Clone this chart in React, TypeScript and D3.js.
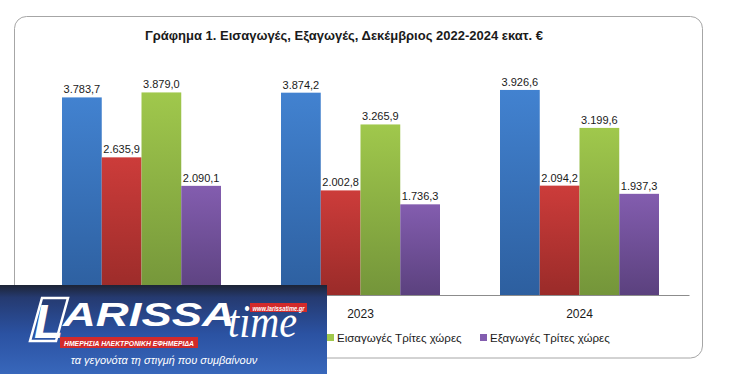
import React, { useEffect, useRef } from 'react';
import * as d3 from 'd3';

const categories = ['2022', '2023', '2024'];
const seriesNames = [
    'Εισαγωγές Χώρες ΕΕ',
    'Εξαγωγές Χώρες ΕΕ',
    'Εισαγωγές Τρίτες χώρες',
    'Εξαγωγές Τρίτες χώρες',
];
const importsEU = [3783.7, 3874.2, 3926.6];
const exportsEU = [2635.9, 2002.8, 2094.2];
const importsThird = [3879.0, 3265.9, 3199.6];
const exportsThird = [2090.1, 1736.3, 1937.3];

// top / bottom colour of each series gradient
const seriesColours = [
    ['#4282d0', '#2d5f9f'],
    ['#cc3c3a', '#9a2b29'],
    ['#a0c84c', '#74953a'],
    ['#835daf', '#5b417e'],
];

export default function App() {
    const svgRef = useRef<SVGSVGElement | null>(null);

    useEffect(() => {
        if (!svgRef.current) return;
        const root = d3.select(svgRef.current);
        root.selectAll('*').remove();

        const W = 731;
        const H = 374;
        const font = '"Liberation Sans", Arial, sans-serif';
        const values = [importsEU, exportsEU, importsThird, exportsThird];

        const locale = d3.formatLocale({ decimal: ',', thousands: '.', grouping: [3], currency: ['', '€'] });
        const fmt = locale.format(',.1f');

        const defs = root.append('defs');
        seriesColours.forEach((c, i) => {
            const g = defs.append('linearGradient')
                .attr('id', `bar-grad-${i}`)
                .attr('x1', 0).attr('y1', 0).attr('x2', 0).attr('y2', 1);
            g.append('stop').attr('offset', '0%').attr('stop-color', c[0]);
            g.append('stop').attr('offset', '100%').attr('stop-color', c[1]);
        });

        root.append('rect').attr('width', W).attr('height', H).attr('fill', '#fff');

        // outer chart frame
        root.append('rect')
            .attr('x', 14.5).attr('y', 16.5)
            .attr('width', 688).attr('height', 341.5)
            .attr('rx', 12)
            .attr('fill', '#fff')
            .attr('stroke', '#a6a6a6')
            .attr('stroke-width', 1);

        root.append('text')
            .attr('x', 344)
            .attr('y', 40)
            .attr('text-anchor', 'middle')
            .style('font-family', font)
            .style('font-size', '13px')
            .style('font-weight', 'bold')
            .style('fill', '#1a1a1a')
            .text('Γράφημα 1. Εισαγωγές, Εξαγωγές, Δεκέμβριος 2022-2024 εκατ. €');

        // Scales
        const x0 = d3.scaleBand()
            .domain(categories)
            .range([32, 689])
            .paddingInner(0.274)
            .paddingOuter(0.137);

        const x1 = d3.scaleBand()
            .domain(d3.range(seriesNames.length).map(String))
            .range([0, x0.bandwidth()]);

        const y = d3.scaleLinear()
            .domain([0, 4500])
            .range([295, 60]);

        const groups = root.append('g')
            .selectAll('g')
            .data(categories)
            .enter()
            .append('g')
            .attr('transform', d => `translate(${x0(d)},0)`);

        groups.selectAll('rect')
            .data((d, ci) => values.map((s, si) => ({ si, v: s[ci] })))
            .enter()
            .append('rect')
            .attr('x', d => x1(String(d.si))!)
            .attr('y', d => y(d.v))
            .attr('width', x1.bandwidth())
            .attr('height', d => y(0) - y(d.v))
            .attr('fill', d => `url(#bar-grad-${d.si})`);

        groups.selectAll('text')
            .data((d, ci) => values.map((s, si) => ({ si, v: s[ci] })))
            .enter()
            .append('text')
            .attr('x', d => x1(String(d.si))! + x1.bandwidth() / 2)
            .attr('y', d => y(d.v) - 4)
            .attr('text-anchor', 'middle')
            .style('font-family', font)
            .style('font-size', '11px')
            .style('fill', '#1a1a1a')
            .text(d => fmt(d.v));

        // category axis
        const xAxis = root.append('g')
            .attr('transform', `translate(0,${y(0)})`)
            .call(d3.axisBottom(x0).tickSize(0).tickPadding(14));
        xAxis.select('.domain').attr('stroke', '#8c8c8c');
        xAxis.selectAll('text')
            .style('font-family', font)
            .style('font-size', '12px')
            .style('fill', '#1a1a1a');

        // legend
        const legendX = [76, 200, 327, 480];
        const legend = root.append('g')
            .selectAll('g')
            .data(seriesNames)
            .enter()
            .append('g')
            .attr('transform', (d, i) => `translate(${legendX[i]},334)`);
        legend.append('rect')
            .attr('width', 7).attr('height', 7)
            .attr('fill', (d, i) => seriesColours[i][0]);
        legend.append('text')
            .attr('x', 10).attr('y', 7.5)
            .style('font-family', font)
            .style('font-size', '11.5px')
            .style('fill', '#1a1a1a')
            .text(d => d);

        // newspaper banner over the bottom-left corner
        const lg = defs.append('linearGradient')
            .attr('id', 'logo-grad')
            .attr('x1', 0).attr('y1', 0).attr('x2', 0).attr('y2', 1);
        lg.append('stop').attr('offset', '0%').attr('stop-color', '#1d2436');
        lg.append('stop').attr('offset', '14%').attr('stop-color', '#253a70');
        lg.append('stop').attr('offset', '55%').attr('stop-color', '#2b52a2');
        lg.append('stop').attr('offset', '100%').attr('stop-color', '#3867bb');

        const logo = root.append('g');
        logo.append('rect')
            .attr('x', 0).attr('y', 285)
            .attr('width', 327).attr('height', 89)
            .attr('fill', 'url(#logo-grad)');
        logo.append('path')
            .attr('d', 'M42,298 L68,298 L56,341 L30,341 Z')
            .attr('fill', 'none')
            .attr('stroke', '#fff')
            .attr('stroke-width', 2.5);
        logo.append('text')
            .attr('x', 34).attr('y', 338)
            .style('font-family', font)
            .style('font-size', '48px')
            .style('font-weight', 'bold')
            .style('font-style', 'italic')
            .style('fill', '#fff')
            .text('L');
        logo.append('text')
            .attr('x', 63).attr('y', 326)
            .attr('textLength', 172)
            .attr('lengthAdjust', 'spacingAndGlyphs')
            .style('font-family', font)
            .style('font-size', '34px')
            .style('font-weight', 'bold')
            .style('font-style', 'italic')
            .style('fill', '#fff')
            .text('ARISSA');
        logo.append('text')
            .attr('x', 228).attr('y', 337)
            .attr('textLength', 69)
            .attr('lengthAdjust', 'spacingAndGlyphs')
            .style('font-family', '"Liberation Serif", serif')
            .style('font-size', '46px')
            .style('font-style', 'italic')
            .style('fill', '#fff')
            .text('time');
        logo.append('rect')
            .attr('x', 250).attr('y', 303)
            .attr('width', 57).attr('height', 9)
            .attr('fill', '#d22a2a');
        logo.append('text')
            .attr('x', 278.5).attr('y', 310.5)
            .attr('text-anchor', 'middle')
            .attr('textLength', 52)
            .attr('lengthAdjust', 'spacingAndGlyphs')
            .style('font-family', font)
            .style('font-size', '7px')
            .style('font-weight', 'bold')
            .style('font-style', 'italic')
            .style('fill', '#fff')
            .text('www.larissatime.gr');
        logo.append('rect')
            .attr('x', 60).attr('y', 337)
            .attr('width', 138).attr('height', 11)
            .attr('fill', '#d22a2a');
        logo.append('text')
            .attr('x', 129).attr('y', 345.5)
            .attr('text-anchor', 'middle')
            .attr('textLength', 130)
            .attr('lengthAdjust', 'spacingAndGlyphs')
            .style('font-family', font)
            .style('font-size', '8px')
            .style('font-weight', 'bold')
            .style('font-style', 'italic')
            .style('fill', '#fff')
            .text('ΗΜΕΡΗΣΙΑ ΗΛΕΚΤΡΟΝΙΚΗ ΕΦΗΜΕΡΙΔΑ');
        logo.append('text')
            .attr('x', 164).attr('y', 364)
            .attr('text-anchor', 'middle')
            .style('font-family', font)
            .style('font-size', '11px')
            .style('font-style', 'italic')
            .style('fill', '#fff')
            .text('τα γεγονότα τη στιγμή που συμβαίνουν');
    }, []);

    return (
        <svg
            ref={svgRef}
            width={731}
            height={374}
            style={{ position: 'absolute', left: 0, top: 0, display: 'block' }}
        />
    );
}
